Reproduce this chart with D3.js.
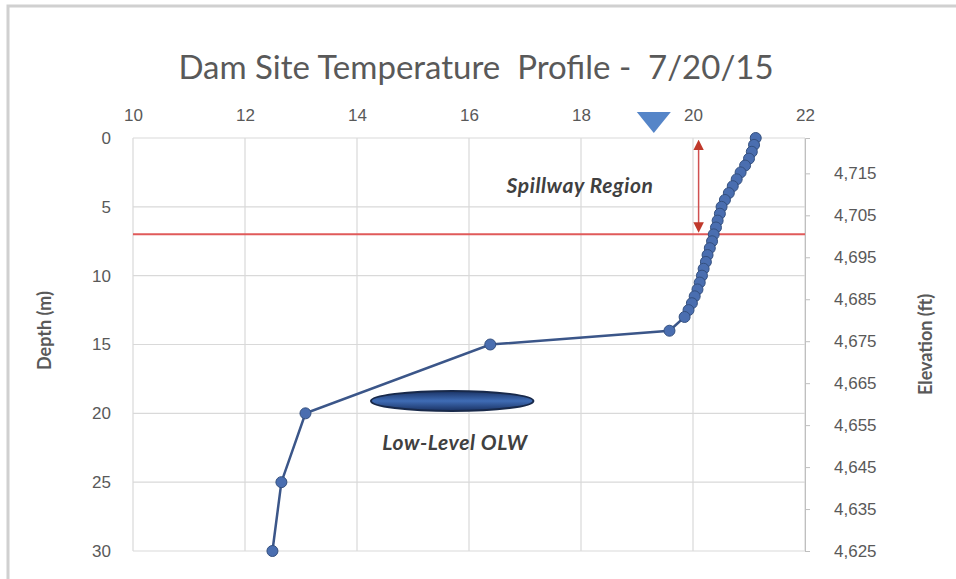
<!DOCTYPE html>
<html>
<head>
<meta charset="utf-8">
<script src="https://cdn.jsdelivr.net/npm/d3@7"></script>
<style>
  body { margin: 0; background: #fff; }
  svg { display: block; font-family: Lato, "Open Sans", sans-serif; }
</style>
</head>
<body>
<div id="viz"></div>
<script>
// Profile readings: depth (m) and water temperature (deg C)
var depths = [0, 0.5, 1, 1.5, 2, 2.5, 3, 3.5, 4, 4.5, 5, 5.5, 6, 6.5, 7, 7.5, 8, 8.5, 9, 9.5,
              10, 10.5, 11, 11.5, 12, 12.5, 13, 14, 15, 20, 25, 30];
var temps = [21.12, 21.09, 21.05, 21.0, 20.93, 20.85, 20.78, 20.71, 20.64, 20.57, 20.51, 20.48,
             20.44, 20.41, 20.37, 20.34, 20.30, 20.26, 20.23, 20.19, 20.16, 20.12, 20.08, 20.03,
             19.98, 19.92, 19.85, 19.58, 16.38, 13.08, 12.65, 12.49];

// tick labels
var tempTicks = [10, 12, 14, 16, 18, 20, 22];
var depthTicks = [0, 5, 10, 15, 20, 25, 30];
var elevTicks = [4625, 4635, 4645, 4655, 4665, 4675, 4685, 4695, 4705, 4715];

// annotations
var spillwayLine = 7;           // depth of red line (m)
var spillwayArrow = [0.5, 6.5]; // depth span of arrow
var arrowTemp = 20.1;
var surfaceTemp = 19.3;         // water surface marker
var outletTemp = 15.7, outletDepth = 19.1, outletHalfWidth = 1.45;

var W = 956, H = 579;
// plot box (note: 'top' is reserved on window, so use pl/pr/pt/pb)
var pl = 133, pr = 805, pt = 138, pb = 551;

var svg = d3.select("#viz").append("svg").attr("width", W).attr("height", H);
svg.append("rect").attr("width", W).attr("height", H).attr("fill", "#fff");

// outer frame
svg.append("rect").attr("x", 8).attr("y", 6).attr("width", W + 10).attr("height", H + 10)
   .attr("fill", "none").attr("stroke", "#d0d0d0").attr("stroke-width", 3);

var x = d3.scaleLinear().domain([10, 22]).range([pl, pr]);
var y = d3.scaleLinear().domain([0, 30]).range([pt, pb]);
var ftPerM = 3.28084;
var yElev = d3.scaleLinear().domain([4625, 4625 + 30 * ftPerM]).range([pb, pt]);

// gridlines
var grid = svg.append("g");
grid.selectAll(".vg").data(tempTicks).enter().append("line")
    .attr("x1", d => x(d)).attr("x2", d => x(d)).attr("y1", pt).attr("y2", pb)
    .attr("stroke", "#d9d9d9").attr("stroke-width", 1.2);
grid.selectAll(".hg").data(depthTicks).enter().append("line")
    .attr("x1", pl).attr("x2", pr).attr("y1", d => y(d)).attr("y2", d => y(d))
    .attr("stroke", "#d9d9d9").attr("stroke-width", 1.2);

// top axis
var xAxis = svg.append("g").attr("transform", "translate(0," + (pt - 8) + ")")
    .call(d3.axisTop(x).tickValues(tempTicks).tickSize(0).tickPadding(9));
xAxis.select(".domain").remove();

// left axis
var yAxis = svg.append("g").attr("transform", "translate(" + (pl - 8) + ",0)")
    .call(d3.axisLeft(y).tickValues(depthTicks).tickSize(0).tickPadding(14));
yAxis.select(".domain").remove();

// right axis
var rAxis = svg.append("g").attr("transform", "translate(" + pr + ",0)")
    .call(d3.axisRight(yElev).tickValues(elevTicks).tickSize(5).tickPadding(24)
          .tickFormat(d3.format(",")));
rAxis.select(".domain").attr("stroke", "#bfbfbf");
rAxis.selectAll(".tick line").attr("stroke", "#bfbfbf");

svg.selectAll(".tick text").attr("fill", "#595959").style("font-size", "17px");

// axis titles
svg.append("text").attr("transform", "translate(51," + ((pt + pb) / 2 - 14) + ") rotate(-90)")
   .attr("text-anchor", "middle").attr("fill", "#595959").style("font-size", "18px")
   .style("font-weight", "bold").text("Depth (m)");
svg.append("text").attr("transform", "translate(932," + ((pt + pb) / 2) + ") rotate(-90)")
   .attr("text-anchor", "middle").attr("fill", "#595959").style("font-size", "18px")
   .style("font-weight", "bold").text("Elevation (ft)");

// title
svg.append("text").attr("x", 476).attr("y", 79).attr("text-anchor", "middle")
   .attr("fill", "#595959").style("font-size", "33px").style("white-space", "pre")
   .text("Dam Site Temperature  Profile -  7/20/15");

// spillway red line
svg.append("line").attr("x1", pl).attr("x2", pr)
   .attr("y1", y(spillwayLine)).attr("y2", y(spillwayLine))
   .attr("stroke", "#e05a5a").attr("stroke-width", 2);

// double arrow
var defs = svg.append("defs");
defs.append("marker").attr("id", "ah").attr("viewBox", "0 0 10 10").attr("refX", 5).attr("refY", 5)
    .attr("markerWidth", 7).attr("markerHeight", 7).attr("orient", "auto-start-reverse")
    .append("path").attr("d", "M0,0 L10,5 L0,10 z").attr("fill", "#c0392b");
svg.append("line").attr("x1", x(arrowTemp)).attr("x2", x(arrowTemp))
   .attr("y1", y(spillwayArrow[0])).attr("y2", y(spillwayArrow[1]))
   .attr("stroke", "#d05050").attr("stroke-width", 1.5)
   .attr("marker-start", "url(#ah)").attr("marker-end", "url(#ah)");

svg.append("text").attr("x", 580).attr("y", 193).attr("text-anchor", "middle")
   .attr("fill", "#404040").style("font-size", "21px").style("font-style", "italic")
   .style("font-weight", "bold").style("letter-spacing", "0.6px").text("Spillway Region");

// water surface triangle
var tx = x(surfaceTemp);
svg.append("path").attr("d", "M" + (tx - 17) + "," + (pt - 26) + " L" + (tx + 17) + "," + (pt - 26) +
    " L" + tx + "," + (pt - 5) + " z").attr("fill", "#5585c8");

// low-level outlet oval
var grad = defs.append("linearGradient").attr("id", "og").attr("x1", 0).attr("x2", 0).attr("y1", 0).attr("y2", 1);
grad.append("stop").attr("offset", "0%").attr("stop-color", "#1a3263");
grad.append("stop").attr("offset", "50%").attr("stop-color", "#3f6cb5");
grad.append("stop").attr("offset", "100%").attr("stop-color", "#1a3263");
svg.append("ellipse").attr("cx", x(outletTemp)).attr("cy", y(outletDepth))
   .attr("rx", x(outletTemp + outletHalfWidth) - x(outletTemp)).attr("ry", 10)
   .attr("fill", "url(#og)").attr("stroke", "#18294a").attr("stroke-width", 2);
svg.append("text").attr("x", 455).attr("y", 450).attr("text-anchor", "middle")
   .attr("fill", "#404040").style("font-size", "21px").style("font-style", "italic")
   .style("font-weight", "bold").style("letter-spacing", "0.6px").text("Low-Level OLW");

// profile line + markers
var pts = depths.map((d, i) => [temps[i], d]);
svg.append("path").datum(pts)
   .attr("d", d3.line().x(d => x(d[0])).y(d => y(d[1])))
   .attr("fill", "none").attr("stroke", "#3b5689").attr("stroke-width", 2.5);
svg.selectAll(".pt").data(pts).enter().append("circle")
   .attr("cx", d => x(d[0])).attr("cy", d => y(d[1])).attr("r", 5.5)
   .attr("fill", "#4a6eb0").attr("stroke", "#34507f").attr("stroke-width", 1);
</script>
</body>
</html>
